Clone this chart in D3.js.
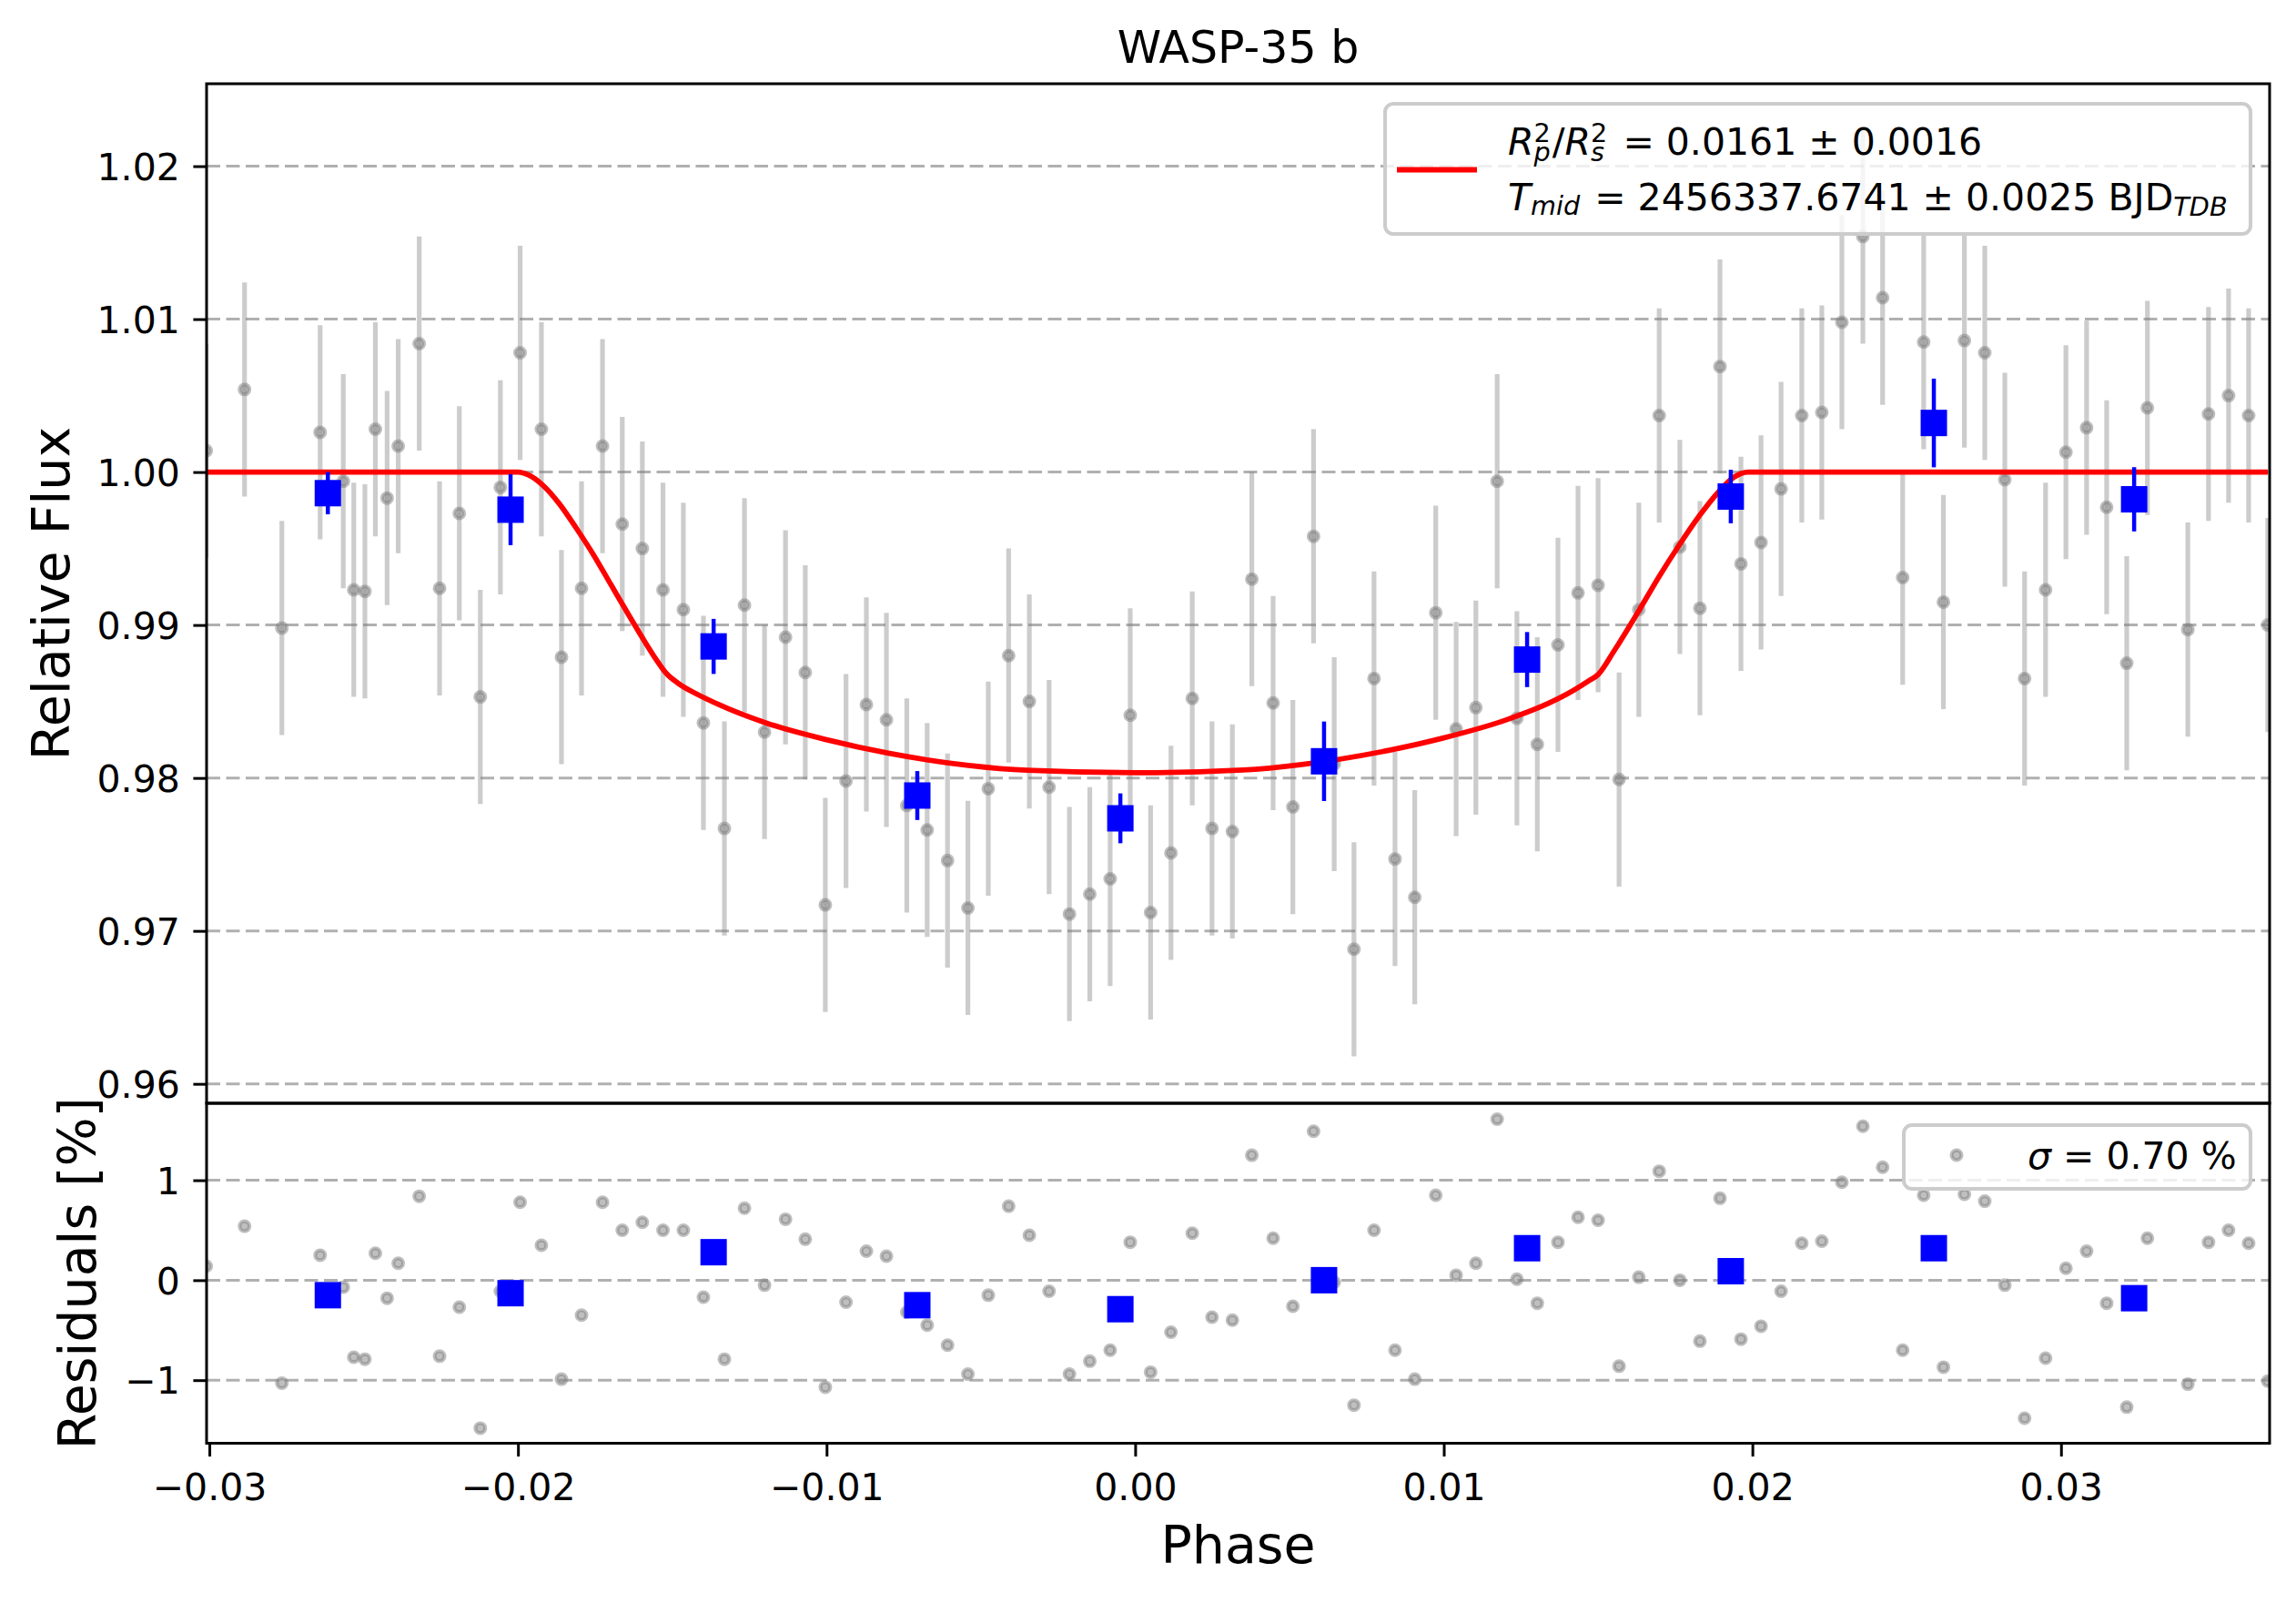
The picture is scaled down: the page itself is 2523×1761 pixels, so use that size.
<!DOCTYPE html>
<html>
<head>
<meta charset="utf-8">
<script src="https://cdnjs.cloudflare.com/ajax/libs/d3/7.8.5/d3.min.js"></script>
<style>
  body { margin: 0; background: #fff; }
  svg text { font-family: "DejaVu Sans", sans-serif; fill: #000; }
</style>
</head>
<body>
<script>
// Unbinned light curve (phase, relative flux, residual in %)
var phase = [
  -0.0301, -0.02886, -0.02765, -0.02641, -0.02566, -0.02532, -0.02496, -0.02462, -0.02424, -0.02388,
  -0.0232, -0.02254, -0.0219, -0.02122, -0.02057, -0.01993, -0.01924, -0.01859, -0.01794, -0.01726,
  -0.01662, -0.01597, -0.0153, -0.01464, -0.01399, -0.01331, -0.01266, -0.01201, -0.01133, -0.01069,
  -0.01004, -0.00937, -0.00871, -0.00806, -0.0074, -0.00674, -0.00608, -0.00542, -0.00476, -0.0041,
  -0.00343, -0.00279, -0.00213, -0.00147, -0.00081, -0.00016, 0.0005, 0.00116, 0.00185, 0.00249,
  0.00315, 0.00378, 0.00447, 0.00511, 0.00578, 0.00645, 0.00709, 0.00774, 0.00842, 0.00906,
  0.00974, 0.0104, 0.01104, 0.01173, 0.01237, 0.01303, 0.0137, 0.01435, 0.015, 0.01568,
  0.01632, 0.01698, 0.01765, 0.0183, 0.01895, 0.01963, 0.02028, 0.02093, 0.0216, 0.02225,
  0.0229, 0.02358, 0.02422, 0.02487, 0.02555, 0.02619, 0.02687, 0.02753, 0.02818, 0.02882,
  0.0295, 0.03016, 0.03083, 0.03148, 0.03213, 0.0328, 0.03411, 0.03478, 0.03543, 0.03608, 0.0367
];
var flux = [
  1.0014, 1.0054, 0.9898, 1.0026, 0.9994, 0.9923, 0.9922, 1.0028, 0.9983, 1.0017,
  1.0084, 0.9924, 0.9973, 0.9853, 0.9990, 1.0078, 1.0028, 0.9879, 0.9924, 1.0017,
  0.9966, 0.9950, 0.9923, 0.9910, 0.9836, 0.9767, 0.9913, 0.9830, 0.9892, 0.9869,
  0.9717, 0.9798, 0.9848, 0.9838, 0.9782, 0.9766, 0.9746, 0.9715, 0.9793, 0.9880,
  0.9850, 0.9794, 0.9711, 0.9724, 0.9734, 0.9841, 0.9712, 0.9751, 0.9852, 0.9767,
  0.9765, 0.9930, 0.9849, 0.9781, 0.9958, 0.9809, 0.9688, 0.9865, 0.9747, 0.9722,
  0.9908, 0.9832, 0.9846, 0.9994, 0.9839, 0.9822, 0.9887, 0.9921, 0.9926, 0.9799,
  0.9910, 1.0037, 0.9951, 0.9911, 1.0069, 0.9940, 0.9954, 0.9989, 1.0037, 1.0039,
  1.0098, 1.0154, 1.0114, 0.9931, 1.0085, 0.9915, 1.0086, 1.0078, 0.9995, 0.9865,
  0.9923, 1.0013, 1.0029, 0.9977, 0.9875, 1.0042, 0.9897, 1.0038, 1.0050, 1.0037, 0.9900
];
var fluxErr = 0.0070;
var resid = [
  0.14, 0.54, -1.03, 0.25, -0.07, -0.77, -0.79, 0.27, -0.18, 0.17,
  0.84, -0.76, -0.27, -1.48, -0.11, 0.78, 0.35, -0.99, -0.35, 0.78,
  0.50, 0.58, 0.50, 0.50, -0.17, -0.79, 0.72, -0.05, 0.61, 0.41,
  -1.07, -0.22, 0.29, 0.24, -0.32, -0.45, -0.65, -0.94, -0.15, 0.74,
  0.45, -0.11, -0.94, -0.81, -0.70, 0.38, -0.92, -0.52, 0.47, -0.37,
  -0.40, 1.25, 0.42, -0.26, 1.49, -0.02, -1.25, 0.50, -0.70, -0.99,
  0.85, 0.05, 0.17, 1.61, 0.01, -0.23, 0.38, 0.63, 0.60, -0.86,
  0.03, 1.09, 0.00, -0.61, 0.82, -0.59, -0.46, -0.11, 0.37, 0.39,
  0.98, 1.54, 1.13, -0.70, 0.85, -0.87, 0.86, 0.79, -0.05, -1.38,
  -0.78, 0.12, 0.29, -0.23, -1.27, 0.42, -1.04, 0.38, 0.50, 0.37, -1.01
];

// Binned points
var binPhase = [-0.02616, -0.02024, -0.01366, -0.00706, -0.00048, 0.00612, 0.0127, 0.0193, 0.02588, 0.03237];
var binFlux = [0.99862, 0.99754, 0.9886, 0.97885, 0.97736, 0.98109, 0.98774, 0.9984, 1.00321, 0.99822];
var binErr = [0.00138, 0.00232, 0.0018, 0.0016, 0.00163, 0.0026, 0.0018, 0.00175, 0.0029, 0.0021];
var binResid = [-0.15, -0.13, 0.28, -0.25, -0.29, 0.0, 0.32, 0.09, 0.32, -0.18];

// Transit model
var modelPhase = [-0.0301, -0.0200, -0.01965, -0.0192, -0.01865, -0.0181, -0.01754, -0.01699, -0.01643,
  -0.01588, -0.01554, -0.0152, -0.0148, -0.0142, -0.0135, -0.0120, -0.0100, -0.0080, -0.0054,
  -0.0035, 0.0, 0.0035, 0.0054, 0.0080, 0.0100, 0.0120, 0.0135, 0.0142, 0.0147, 0.0150,
  0.01552, 0.01632, 0.01698, 0.01762, 0.0183, 0.0189, 0.0194, 0.01986, 0.0367];
var modelFlux = [1.0, 1.0, 0.9998, 0.99915, 0.9979, 0.9963, 0.99455, 0.99265, 0.99072,
  0.98888, 0.9878, 0.98685, 0.98618, 0.98548, 0.9848, 0.98362, 0.9825, 0.98162, 0.98082,
  0.9805, 0.98034, 0.98052, 0.98088, 0.98172, 0.98262, 0.98378, 0.98498, 0.98572, 0.98635, 0.98676,
  0.98831, 0.99093, 0.99318, 0.9952, 0.99719, 0.9987, 0.99966, 1.0, 1.0];

// Tick values
var xTicks = [-0.03, -0.02, -0.01, 0.00, 0.01, 0.02, 0.03];
var yMainTicks = [0.96, 0.97, 0.98, 0.99, 1.00, 1.01, 1.02];
var yResTicks = [-1, 0, 1];

// Define SVG area dimensions
var svgWidth = 2523;
var svgHeight = 1761;

// Panel edges
var plotLeft = 227;
var plotRight = 2494;
var mainTop = 92;
var mainBottom = 1212;
var resBottom = 1585.5;

var tickFont = 41;
var labelFont = 57;

var svg = d3.select("body")
  .append("svg")
  .attr("width", svgWidth)
  .attr("height", svgHeight);

svg.append("rect").attr("width", svgWidth).attr("height", svgHeight).attr("fill", "#fff");

// Scales
var xScale = d3.scaleLinear()
  .domain([-0.03009, 0.03676])
  .range([plotLeft, plotRight]);

var yMain = d3.scaleLinear()
  .domain([0.95873, 1.02539])
  .range([mainBottom, mainTop]);

var yRes = d3.scaleLinear()
  .domain([-1.631, 1.770])
  .range([resBottom, mainBottom]);

// clip paths for the two panels
var defs = svg.append("defs");
defs.append("clipPath").attr("id", "clipMain")
  .append("rect")
  .attr("x", plotLeft).attr("y", mainTop)
  .attr("width", plotRight - plotLeft).attr("height", mainBottom - mainTop);
defs.append("clipPath").attr("id", "clipRes")
  .append("rect")
  .attr("x", plotLeft).attr("y", mainBottom)
  .attr("width", plotRight - plotLeft).attr("height", resBottom - mainBottom);

var mainGroup = svg.append("g").attr("clip-path", "url(#clipMain)");
var resGroup = svg.append("g").attr("clip-path", "url(#clipRes)");

// dashed horizontal grid
function drawGrid(group, ticks, scale) {
  group.selectAll(null)
    .data(ticks)
    .enter()
    .append("line")
    .attr("x1", plotLeft)
    .attr("x2", plotRight)
    .attr("y1", d => scale(d))
    .attr("y2", d => scale(d))
    .attr("stroke", "#b0b0b0")
    .attr("stroke-width", 3)
    .attr("stroke-dasharray", "15,6.5");
}
drawGrid(mainGroup, yMainTicks, yMain);
drawGrid(resGroup, yResTicks, yRes);

var points = phase.map((p, i) => ({p: p, f: flux[i], r: resid[i]}));
var bins = binPhase.map((p, i) => ({p: p, f: binFlux[i], e: binErr[i], r: binResid[i]}));

// gray error bars
mainGroup.selectAll(null)
  .data(points)
  .enter()
  .append("line")
  .attr("x1", d => xScale(d.p))
  .attr("x2", d => xScale(d.p))
  .attr("y1", d => yMain(d.f - fluxErr))
  .attr("y2", d => yMain(d.f + fluxErr))
  .attr("stroke", "gray")
  .attr("stroke-opacity", 0.4)
  .attr("stroke-width", 5.2);

function grayDot(sel) {
  sel.attr("r", 5.4)
    .attr("fill", "gray")
    .attr("fill-opacity", 0.5)
    .attr("stroke", "gray")
    .attr("stroke-opacity", 0.5)
    .attr("stroke-width", 4.2);
}

mainGroup.selectAll(null)
  .data(points)
  .enter()
  .append("circle")
  .attr("cx", d => xScale(d.p))
  .attr("cy", d => yMain(d.f))
  .call(grayDot);

resGroup.selectAll(null)
  .data(points)
  .enter()
  .append("circle")
  .attr("cx", d => xScale(d.p))
  .attr("cy", d => yRes(d.r))
  .call(grayDot);

// model curve
var drawLine = d3.line()
  .x(d => xScale(d[0]))
  .y(d => yMain(d[1]))
  .curve(d3.curveMonotoneX);

mainGroup.append("path")
  .datum(modelPhase.map((p, i) => [p, modelFlux[i]]))
  .attr("d", drawLine)
  .attr("fill", "none")
  .attr("stroke", "red")
  .attr("stroke-width", 5.8);

// binned points
mainGroup.selectAll(null)
  .data(bins)
  .enter()
  .append("line")
  .attr("x1", d => xScale(d.p))
  .attr("x2", d => xScale(d.p))
  .attr("y1", d => yMain(d.f - d.e))
  .attr("y2", d => yMain(d.f + d.e))
  .attr("stroke", "blue")
  .attr("stroke-width", 4.5);

var sq = 29;
mainGroup.selectAll(null)
  .data(bins)
  .enter()
  .append("rect")
  .attr("x", d => xScale(d.p) - sq / 2)
  .attr("y", d => yMain(d.f) - sq / 2)
  .attr("width", sq)
  .attr("height", sq)
  .attr("fill", "blue");

resGroup.selectAll(null)
  .data(bins)
  .enter()
  .append("rect")
  .attr("x", d => xScale(d.p) - sq / 2)
  .attr("y", d => yRes(d.r) - sq / 2)
  .attr("width", sq)
  .attr("height", sq)
  .attr("fill", "blue");

// axes
function styleAxis(g, dy) {
  g.select(".domain").remove();
  g.selectAll(".tick line").attr("stroke", "#000").attr("stroke-width", 3);
  g.selectAll(".tick text")
    .attr("dy", dy)
    .style("font-size", tickFont + "px")
    .style("font-family", '"DejaVu Sans", sans-serif');
}

var leftMain = d3.axisLeft(yMain)
  .tickValues(yMainTicks)
  .tickFormat(d3.format(".2f"))
  .tickSize(14.6)
  .tickPadding(14.6);
svg.append("g")
  .attr("transform", `translate(${plotLeft}, 0)`)
  .call(leftMain)
  .call(g => styleAxis(g, "0.36em"));

var leftRes = d3.axisLeft(yRes)
  .tickValues(yResTicks)
  .tickFormat(d3.format("d"))
  .tickSize(14.6)
  .tickPadding(14.6);
svg.append("g")
  .attr("transform", `translate(${plotLeft}, 0)`)
  .call(leftRes)
  .call(g => styleAxis(g, "0.36em"));

var bottomAxis = d3.axisBottom(xScale)
  .tickValues(xTicks)
  .tickFormat(d3.format(".2f"))
  .tickSize(14.6)
  .tickPadding(14.6);
svg.append("g")
  .attr("transform", `translate(0, ${resBottom})`)
  .call(bottomAxis)
  .call(g => styleAxis(g, "0.82em"));

// panel frames
svg.append("rect")
  .attr("x", plotLeft).attr("y", mainTop)
  .attr("width", plotRight - plotLeft).attr("height", mainBottom - mainTop)
  .attr("fill", "none").attr("stroke", "#000").attr("stroke-width", 3);
svg.append("rect")
  .attr("x", plotLeft).attr("y", mainBottom)
  .attr("width", plotRight - plotLeft).attr("height", resBottom - mainBottom)
  .attr("fill", "none").attr("stroke", "#000").attr("stroke-width", 3);

// one text element per line; tspans carry italics and sub/superscripts
function mathText(g, x, y, runs) {
  var text = g.append("text").style("white-space", "pre");
  var cx = x;
  var lastW = 0;
  runs.forEach(function(r) {
    var t = text.append("tspan")
      .attr("x", r.stack ? cx - lastW : cx)
      .attr("y", y + (r.shift || 0))
      .style("font-size", r.size + "px")
      .style("font-style", r.italic ? "italic" : "normal")
      .text(r.t);
    var w = t.node().getComputedTextLength();
    if (r.stack) {
      cx = cx - lastW + Math.max(w, lastW);
    } else {
      cx += w;
      lastW = w;
    }
    cx += (r.gap || 0);
  });
}

var small = tickFont * 0.7;

// main legend
var leg = svg.append("g");
leg.append("rect")
  .attr("x", 1522).attr("y", 114)
  .attr("width", 951).attr("height", 143)
  .attr("rx", 9)
  .attr("fill", "#fff").attr("fill-opacity", 0.8)
  .attr("stroke", "#cccccc").attr("stroke-width", 4);
leg.append("line")
  .attr("x1", 1535).attr("x2", 1623)
  .attr("y1", 186.5).attr("y2", 186.5)
  .attr("stroke", "red").attr("stroke-width", 5.8);
mathText(leg, 1657, 170, [
  {t: "R", italic: true, size: tickFont},
  {t: "2", size: small, shift: -14},
  {t: "p", italic: true, size: small, shift: 7, stack: true, gap: 2},
  {t: "/", size: tickFont},
  {t: "R", italic: true, size: tickFont},
  {t: "2", size: small, shift: -14},
  {t: "s", italic: true, size: small, shift: 7, stack: true, gap: 4},
  {t: " = 0.0161 \u00b1 0.0016", size: tickFont}
]);
mathText(leg, 1657, 231, [
  {t: "T", italic: true, size: tickFont},
  {t: "mid", italic: true, size: small, shift: 5, gap: 3},
  {t: " = 2456337.6741 \u00b1 0.0025 BJD", size: tickFont},
  {t: "TDB", italic: true, size: small, shift: 6}
]);

// residual legend
var leg2 = svg.append("g");
leg2.append("rect")
  .attr("x", 2092).attr("y", 1236)
  .attr("width", 381).attr("height", 70)
  .attr("rx", 9)
  .attr("fill", "#fff").attr("fill-opacity", 0.8)
  .attr("stroke", "#cccccc").attr("stroke-width", 4);
leg2.append("circle")
  .attr("cx", 2150).attr("cy", 1269)
  .call(grayDot);
mathText(leg2, 2228, 1284, [
  {t: "\u03c3", italic: true, size: tickFont},
  {t: " = 0.70 %", size: tickFont}
]);

// title and axis labels
svg.append("text")
  .attr("x", (plotLeft + plotRight) / 2)
  .attr("y", 69)
  .attr("text-anchor", "middle")
  .style("font-size", "49px")
  .text("WASP-35 b");

svg.append("text")
  .attr("x", (plotLeft + plotRight) / 2)
  .attr("y", 1717)
  .attr("text-anchor", "middle")
  .style("font-size", labelFont + "px")
  .text("Phase");

svg.append("text")
  .attr("transform", `translate(76, ${(mainTop + mainBottom) / 2}) rotate(-90)`)
  .attr("text-anchor", "middle")
  .style("font-size", labelFont + "px")
  .text("Relative Flux");

svg.append("text")
  .attr("transform", `translate(105, ${(mainBottom + resBottom) / 2}) rotate(-90)`)
  .attr("text-anchor", "middle")
  .style("font-size", labelFont + "px")
  .text("Residuals [%]");
</script>
</body>
</html>
